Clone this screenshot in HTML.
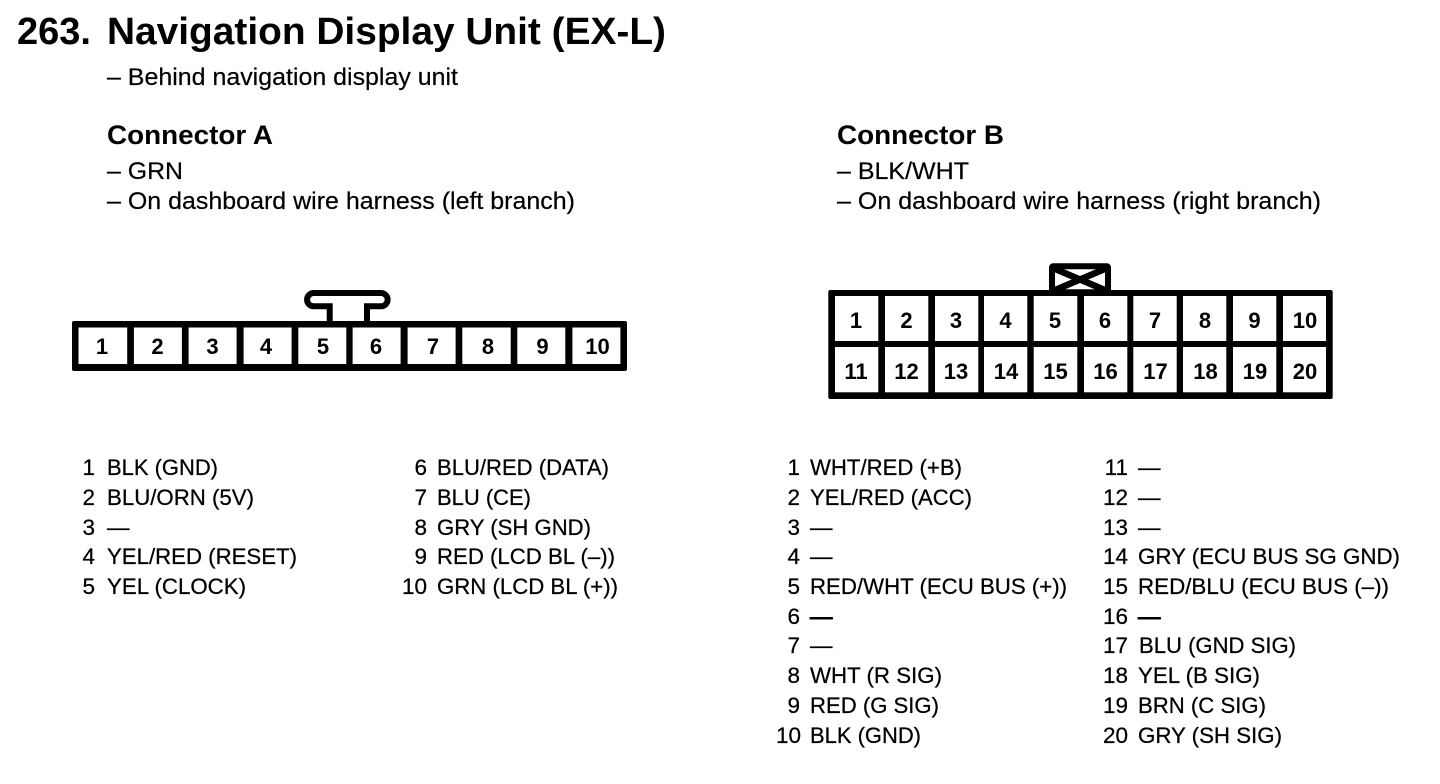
<!DOCTYPE html>
<html><head><meta charset="utf-8"><style>
html,body{margin:0;padding:0;background:#fff;width:1440px;height:784px;overflow:hidden}
svg{display:block}
text{font-family:"Liberation Sans",sans-serif;fill:#000}
.b{font-weight:bold}
.h{font-size:24.500px;stroke:#000;stroke-width:.2px}
.t{font-size:22.500px;stroke:#000;stroke-width:.25px}
.d{stroke-width:.9px}
.n{font-size:22px;font-weight:bold;text-anchor:middle}
.e{text-anchor:end}
</style></head><body>
<svg width="1440" height="784" viewBox="0 0 1440 784" xmlns="http://www.w3.org/2000/svg">
<text class="b" x="17" y="44" font-size="38" textLength="74" lengthAdjust="spacingAndGlyphs">263.</text>
<text class="b" x="107" y="44" font-size="38" textLength="559" lengthAdjust="spacingAndGlyphs">Navigation Display Unit (EX-L)</text>
<text class="h" x="107" y="85" textLength="351" lengthAdjust="spacingAndGlyphs">– Behind navigation display unit</text>
<text class="b" x="107" y="144" font-size="26.500" textLength="166" lengthAdjust="spacingAndGlyphs">Connector A</text>
<text class="h" x="107" y="179" textLength="76" lengthAdjust="spacingAndGlyphs">– GRN</text>
<text class="h" x="107" y="209" textLength="468" lengthAdjust="spacingAndGlyphs">– On dashboard wire harness (left branch)</text>
<text class="b" x="837" y="144" font-size="26.500" textLength="167" lengthAdjust="spacingAndGlyphs">Connector B</text>
<text class="h" x="837" y="179" textLength="132" lengthAdjust="spacingAndGlyphs">– BLK/WHT</text>
<text class="h" x="837" y="209" textLength="484" lengthAdjust="spacingAndGlyphs">– On dashboard wire harness (right branch)</text>

<!-- Connector A -->
<path d="M329.700 324V306.300H313.700A6.650 6.650 0 0 1 313.700 293H381A6.650 6.650 0 0 1 381 306.300H367V324" fill="#fff" stroke="#000" stroke-width="6"/>
<rect x="72" y="321" width="555" height="50" rx="2" fill="#000"/>
<g fill="#fff">
<rect x="78.500" y="327.500" width="48.700" height="36.500"/><rect x="133.900" y="327.500" width="48" height="36.500"/><rect x="188.600" y="327.500" width="48" height="36.500"/><rect x="243.600" y="327.500" width="48" height="36.500"/><rect x="298.300" y="327.500" width="48" height="36.500"/><rect x="352.600" y="327.500" width="48" height="36.500"/><rect x="407.600" y="327.500" width="48" height="36.500"/><rect x="462.300" y="327.500" width="48.400" height="36.500"/><rect x="517.300" y="327.500" width="48" height="36.500"/><rect x="572.400" y="327.500" width="48" height="36.500"/>
</g>
<text class="n" x="102" y="354">1</text><text class="n" x="157.500" y="354">2</text><text class="n" x="212.500" y="354">3</text><text class="n" x="266" y="354">4</text><text class="n" x="323" y="354">5</text><text class="n" x="376" y="354">6</text><text class="n" x="433" y="354">7</text><text class="n" x="488" y="354">8</text><text class="n" x="542.500" y="354">9</text><text class="n" x="597.500" y="354">10</text>

<!-- Connector B -->
<rect x="1052" y="266.300" width="56" height="26" rx="1" fill="#fff" stroke="#000" stroke-width="6"/>
<path d="M1054 268.500L1106 290.500M1106 268.500L1054 290.500" stroke="#000" stroke-width="6.500" fill="none"/>
<rect x="828.300" y="290" width="504.400" height="109" rx="2" fill="#000"/>
<g fill="#fff">
<rect x="835" y="296" width="43.300" height="45"/><rect x="885" y="296" width="43.300" height="45"/><rect x="935" y="296" width="43.300" height="45"/><rect x="984" y="296" width="43.300" height="45"/><rect x="1033.700" y="296" width="43.600" height="45"/><rect x="1084" y="296" width="43.300" height="45"/><rect x="1133.300" y="296" width="43.400" height="45"/><rect x="1183" y="296" width="43.300" height="45"/><rect x="1233" y="296" width="43.300" height="45"/><rect x="1283" y="296" width="43" height="45"/>
<rect x="835" y="347" width="43.300" height="45.300"/><rect x="885" y="347" width="43.300" height="45.300"/><rect x="935" y="347" width="43.300" height="45.300"/><rect x="984" y="347" width="43.300" height="45.300"/><rect x="1033.700" y="347" width="43.600" height="45.300"/><rect x="1084" y="347" width="43.300" height="45.300"/><rect x="1133.300" y="347" width="43.400" height="45.300"/><rect x="1183" y="347" width="43.300" height="45.300"/><rect x="1233" y="347" width="43.300" height="45.300"/><rect x="1283" y="347" width="43" height="45.300"/>
</g>
<text class="n" x="856" y="328">1</text><text class="n" x="906.500" y="328">2</text><text class="n" x="956" y="328">3</text><text class="n" x="1005.500" y="328">4</text><text class="n" x="1055" y="328">5</text><text class="n" x="1105" y="328">6</text><text class="n" x="1155" y="328">7</text><text class="n" x="1205" y="328">8</text><text class="n" x="1254.500" y="328">9</text><text class="n" x="1305" y="328">10</text>
<text class="n" x="856" y="379">11</text><text class="n" x="906.500" y="379">12</text><text class="n" x="956" y="379">13</text><text class="n" x="1006" y="379">14</text><text class="n" x="1055.500" y="379">15</text><text class="n" x="1105.500" y="379">16</text><text class="n" x="1155.500" y="379">17</text><text class="n" x="1205.500" y="379">18</text><text class="n" x="1255" y="379">19</text><text class="n" x="1305" y="379">20</text>

<!-- Pin list A -->
<text class="t e" x="95" y="475">1</text><text class="t" x="107" y="475" textLength="111" lengthAdjust="spacingAndGlyphs">BLK (GND)</text>
<text class="t e" x="95" y="505">2</text><text class="t" x="107" y="505" textLength="147" lengthAdjust="spacingAndGlyphs">BLU/ORN (5V)</text>
<text class="t e" x="95" y="535">3</text><text class="t" x="107" y="535">—</text>
<text class="t e" x="95" y="564">4</text><text class="t" x="107" y="564" textLength="190" lengthAdjust="spacingAndGlyphs">YEL/RED (RESET)</text>
<text class="t e" x="95" y="594">5</text><text class="t" x="107" y="594" textLength="139" lengthAdjust="spacingAndGlyphs">YEL (CLOCK)</text>

<text class="t e" x="427" y="475">6</text><text class="t" x="437" y="475" textLength="172" lengthAdjust="spacingAndGlyphs">BLU/RED (DATA)</text>
<text class="t e" x="427" y="505">7</text><text class="t" x="437" y="505" textLength="94" lengthAdjust="spacingAndGlyphs">BLU (CE)</text>
<text class="t e" x="427" y="535">8</text><text class="t" x="437" y="535" textLength="154" lengthAdjust="spacingAndGlyphs">GRY (SH GND)</text>
<text class="t e" x="427" y="564">9</text><text class="t" x="437" y="564" textLength="178" lengthAdjust="spacingAndGlyphs">RED (LCD BL (–))</text>
<text class="t e" x="427" y="594">10</text><text class="t" x="437" y="594" textLength="181" lengthAdjust="spacingAndGlyphs">GRN (LCD BL (+))</text>

<!-- Pin list B -->
<text class="t e" x="800" y="475">1</text><text class="t" x="810" y="475" textLength="152" lengthAdjust="spacingAndGlyphs">WHT/RED (+B)</text>
<text class="t e" x="800" y="505">2</text><text class="t" x="810" y="505" textLength="162" lengthAdjust="spacingAndGlyphs">YEL/RED (ACC)</text>
<text class="t e" x="800" y="535">3</text><text class="t" x="810" y="535">—</text>
<text class="t e" x="800" y="564">4</text><text class="t" x="810" y="564">—</text>
<text class="t e" x="800" y="594">5</text><text class="t" x="810" y="594" textLength="257" lengthAdjust="spacingAndGlyphs">RED/WHT (ECU BUS (+))</text>
<text class="t e" x="800" y="624">6</text><text class="t d" x="810" y="624">—</text>
<text class="t e" x="800" y="653">7</text><text class="t" x="810" y="653">—</text>
<text class="t e" x="800" y="683">8</text><text class="t" x="810" y="683" textLength="132" lengthAdjust="spacingAndGlyphs">WHT (R SIG)</text>
<text class="t e" x="800" y="713">9</text><text class="t" x="810" y="713" textLength="129" lengthAdjust="spacingAndGlyphs">RED (G SIG)</text>
<text class="t e" x="801" y="743">10</text><text class="t" x="810" y="743" textLength="111" lengthAdjust="spacingAndGlyphs">BLK (GND)</text>

<text class="t e" x="1128" y="475">11</text><text class="t" x="1138" y="475">—</text>
<text class="t e" x="1128" y="505">12</text><text class="t" x="1138" y="505">—</text>
<text class="t e" x="1128" y="535">13</text><text class="t" x="1138" y="535">—</text>
<text class="t e" x="1128" y="564">14</text><text class="t" x="1138" y="564" textLength="262" lengthAdjust="spacingAndGlyphs">GRY (ECU BUS SG GND)</text>
<text class="t e" x="1128" y="594">15</text><text class="t" x="1138" y="594" textLength="251" lengthAdjust="spacingAndGlyphs">RED/BLU (ECU BUS (–))</text>
<text class="t e" x="1128" y="624">16</text><text class="t d" x="1138" y="624">—</text>
<text class="t e" x="1128" y="653">17</text><text class="t" x="1139" y="653" textLength="157" lengthAdjust="spacingAndGlyphs">BLU (GND SIG)</text>
<text class="t e" x="1128" y="683">18</text><text class="t" x="1138" y="683" textLength="122" lengthAdjust="spacingAndGlyphs">YEL (B SIG)</text>
<text class="t e" x="1128" y="713">19</text><text class="t" x="1138" y="713" textLength="128" lengthAdjust="spacingAndGlyphs">BRN (C SIG)</text>
<text class="t e" x="1128" y="743">20</text><text class="t" x="1138" y="743" textLength="144" lengthAdjust="spacingAndGlyphs">GRY (SH SIG)</text>
</svg>
</body></html>
